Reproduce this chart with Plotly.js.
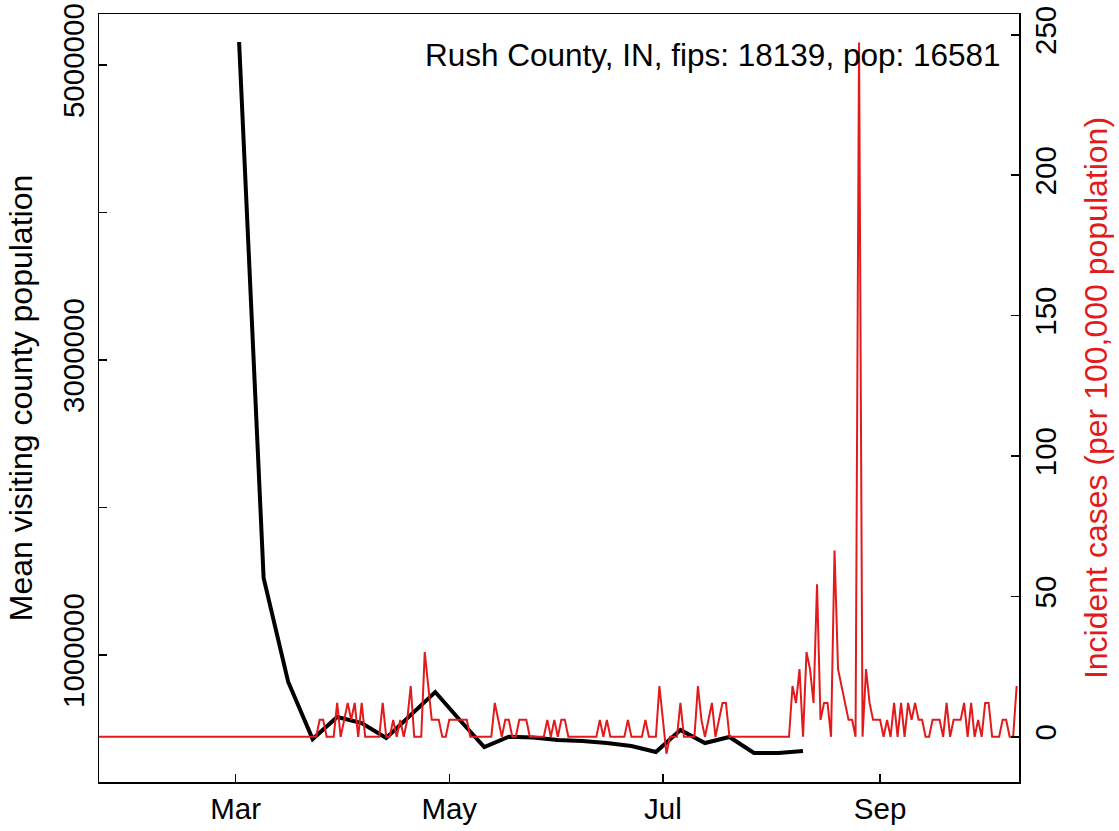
<!DOCTYPE html>
<html>
<head>
<meta charset="utf-8">
<script src="https://cdn.plot.ly/plotly-3.0.1.min.js"></script>
<style>
  html, body { margin: 0; padding: 0; background: #ffffff; }
  #chart { width: 1119px; height: 831px; }
</style>
</head>
<body>
<div id="chart"></div>
<script>
// ---- data ----
const chartTitle = "Rush County, IN, fips: 18139, pop: 16581";
const leftAxisTitle = "Mean visiting county population";
const rightAxisTitle = "Incident cases (per 100,000 population)";

// weekly mean visiting county population (black line)
const visitDates = [
  "2020-03-02","2020-03-09","2020-03-16","2020-03-23","2020-03-30","2020-04-06",
  "2020-04-13","2020-04-20","2020-04-27","2020-05-04","2020-05-11","2020-05-18",
  "2020-05-25","2020-06-01","2020-06-08","2020-06-15","2020-06-22","2020-06-29",
  "2020-07-06","2020-07-13","2020-07-20","2020-07-27","2020-08-03","2020-08-10"
];
const visitPop = [
  5156000, 1522000, 819000, 430000, 580000, 539000,
  437000, 593000, 749000, 559000, 376000, 446000,
  440000, 424000, 417000, 403000, 383000, 342000,
  492000, 403000, 444000, 336000, 336000, 349000
];

// daily incident cases per 100,000 (red line), starting 2020-01-22
const caseStart = "2020-01-22";
const incidence = [
  // Jan 22 - Feb 29
  0,0,0,0,0,0,0,0,0,0, 0,0,0,0,0,0,0,0,0,0,
  0,0,0,0,0,0,0,0,0,0, 0,0,0,0,0,0,0,0,0,
  // Mar 1 - Mar 24
  0,0,0,0,0,0,0,0,0,0, 0,0,0,0,0,0,0,0,0,0,
  0,0,0,0,
  // Mar 25 onward
  6.03,6.03,0,0,0,12.06,0,6.03,12.06,6.03,
  12.06,0,12.06,0,0,0,0,0,12.06,0,
  0,6.03,0,6.03,0,6.03,18.09,0,0,0,
  30.16,18.09,6.03,6.03,6.03,0,0,6.03,6.03,6.03,
  6.03,6.03,6.03,0,0,0,0,0,0,0,
  12.06,6.03,0,6.03,6.03,0,0,6.03,6.03,6.03,
  0,0,0,0,0,6.03,0,6.03,0,6.03,
  6.03,0,0,0,0,0,0,0,0,0,
  6.03,0,6.03,0,0,0,0,0,6.03,0,
  0,0,0,6.03,0,0,0,18.09,6.03,-6.03,
  0,0,0,12.06,0,0,0,0,18.09,6.03,
  0,6.03,12.06,0,6.03,12.06,12.06,0,0,0,
  0,0,0,0,0,0,0,0,0,0,
  0,0,0,0,0,18.09,12.06,24.12,0,30.16,
  24.12,12.06,54.28,6.03,12.06,12.06,0,66.34,24.12,18.09,
  12.06,6.03,6.03,0,247.27,0,24.12,12.06,6.03,6.03,
  6.03,0,6.03,0,12.06,0,12.06,0,12.06,6.03,
  12.06,6.03,6.03,0,0,6.03,6.03,6.03,0,12.06,
  0,6.03,6.03,6.03,12.06,0,12.06,0,6.03,0,
  12.06,12.06,0,0,0,6.03,6.03,0,0,18.09
];

// tick labels
const xTickVals = ["2020-03-01","2020-05-01","2020-07-01","2020-09-01"];
const xTickText = ["Mar","May","Jul","Sep"];
const yTickVals = [1000000,2000000,3000000,4000000,5000000];
const yTickText = ["1000000","","3000000","","5000000"];
const y2TickVals = [0,50,100,150,200,250];
const y2TickText = ["0","50","100","150","200","250"];

// ---- build the daily date list for the incidence series ----
const caseDates = [];
{
  const d0 = new Date(caseStart + "T00:00:00Z");
  for (let i = 0; i < incidence.length; i++) {
    const d = new Date(d0.getTime() + i * 86400000);
    caseDates.push(d.toISOString().slice(0, 10));
  }
}

const RED = "#E31A1C";
const FONT = "Liberation Sans, Arial, Helvetica, sans-serif";
const FS = 29.5;

const traces = [
  {
    x: visitDates, y: visitPop, type: "scatter", mode: "lines",
    line: { color: "#000000", width: 4 }, yaxis: "y", xaxis: "x",
    hoverinfo: "skip", showlegend: false
  },
  {
    x: caseDates, y: incidence, type: "scatter", mode: "lines",
    line: { color: RED, width: 2 }, yaxis: "y2", xaxis: "x",
    hoverinfo: "skip", showlegend: false
  }
];

const layout = {
  width: 1119, height: 831,
  margin: { l: 99, r: 100, t: 14, b: 49, pad: 0 },
  paper_bgcolor: "#ffffff", plot_bgcolor: "#ffffff",
  font: { family: FONT, size: FS, color: "#000000" },
  showlegend: false,
  xaxis: {
    type: "date",
    range: ["2020-01-22 00:00", "2020-10-10 16:00"],
    tickmode: "array", tickvals: xTickVals, ticktext: xTickText,
    ticks: "inside", ticklen: 8, tickwidth: 1.5, tickcolor: "#000",
    showline: true, linecolor: "#000", linewidth: 1.5, mirror: true,
    showgrid: false, zeroline: false,
    ticklabelstandoff: 0,
    tickfont: { family: FONT, size: FS, color: "#000" },
    automargin: false
  },
  yaxis: {
    range: [139000, 5346000],
    tickmode: "array", tickvals: yTickVals, ticktext: yTickText,
    tickangle: -90,
    ticks: "inside", ticklen: 8, tickwidth: 1.5, tickcolor: "#000",
    showline: true, linecolor: "#000", linewidth: 1.5, mirror: true,
    showgrid: false, zeroline: false,
    ticklabelstandoff: 2,
    tickfont: { family: FONT, size: FS, color: "#000" },
    title: { text: leftAxisTitle, font: { family: FONT, size: 32, color: "#000" }, standoff: 14 },
    automargin: false
  },
  yaxis2: {
    overlaying: "y", side: "right",
    range: [-16.1, 257.4],
    tickmode: "array", tickvals: y2TickVals, ticktext: y2TickText,
    tickangle: -90,
    ticks: "inside", ticklen: 8, tickwidth: 1.5, tickcolor: "#000",
    showline: false,
    showgrid: false, zeroline: false,
    ticklabelstandoff: 6,
    tickfont: { family: FONT, size: FS, color: "#000" },
    title: { text: rightAxisTitle, font: { family: FONT, size: 32, color: RED }, standoff: 24 },
    automargin: false
  },
  annotations: [
    {
      text: chartTitle, xref: "paper", yref: "paper",
      x: 0.9826, y: 0.9466, xanchor: "right", yanchor: "middle",
      showarrow: false, font: { family: FONT, size: 31.5, color: "#000" }
    }
  ]
};

Plotly.newPlot("chart", traces, layout, { staticPlot: true, displayModeBar: false });
</script>
</body>
</html>
